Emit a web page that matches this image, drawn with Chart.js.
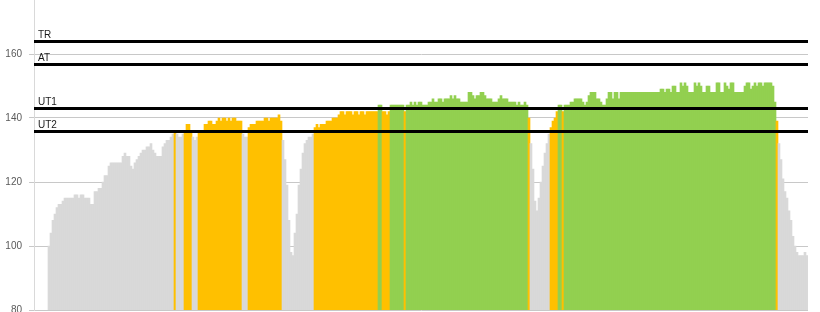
<!DOCTYPE html>
<html>
<head>
<meta charset="utf-8">
<script src="https://cdn.jsdelivr.net/npm/chart.js@4"></script>
<style>
  html, body { margin: 0; padding: 0; background: #fff; overflow: hidden; }
  #wrap { position: relative; width: 820px; height: 312px; }
</style>
</head>
<body>
<div id="wrap"><canvas id="hrChart"></canvas></div>
<script>
// heart rate samples left to right
const leadGap = 7; // empty slots before the recording starts
const hr = [
  100, 104, 108, 110, 112, 113, 113, 114, 115, 115, 115, 115, 115, 116, 116, 115, 116, 116, 115, 115,
  115, 113, 113, 117, 117, 118, 118, 120, 122, 122, 125, 126, 126, 126, 126, 126, 126, 128, 129, 128,
  128, 125, 124, 126, 127, 128, 129, 130, 130, 131, 131, 132, 130, 129, 128, 128, 128, 131, 132, 133,
  133, 134, 135, 136, 135, 134, 134, 135, 136, 138, 138, 136, 134, 133, 134, 136, 136, 136, 138, 138,
  139, 139, 138, 138, 139, 140, 139, 140, 140, 139, 140, 139, 140, 140, 139, 139, 139, 135, 134, 134,
  137, 138, 138, 138, 139, 139, 139, 139, 140, 140, 139, 140, 140, 140, 140, 141, 139, 133, 127, 119,
  108, 98, 97, 104, 110, 119, 124, 129, 132, 133, 134, 134, 135, 137, 138, 137, 138, 138, 138, 139,
  139, 139, 140, 140, 140, 141, 142, 142, 141, 142, 142, 142, 141, 142, 142, 141, 142, 142, 141, 142,
  142, 142, 142, 142, 142, 144, 144, 142, 142, 141, 142, 144, 144, 144, 144, 144, 144, 144, 142, 144,
  144, 145, 144, 145, 144, 145, 145, 144, 144, 144, 145, 145, 146, 145, 145, 146, 146, 145, 146, 146,
  146, 147, 146, 147, 146, 146, 145, 145, 145, 145, 148, 148, 147, 146, 147, 147, 148, 148, 147, 146,
  146, 146, 145, 145, 145, 146, 147, 146, 146, 146, 145, 145, 145, 145, 144, 145, 144, 144, 145, 144,
  140, 132, 124, 114, 111, 115, 120, 125, 129, 132, 135, 137, 139, 140, 142, 144, 144, 142, 144, 144,
  144, 145, 145, 146, 146, 146, 146, 145, 144, 145, 147, 148, 148, 148, 146, 146, 145, 144, 144, 146,
  148, 148, 146, 148, 148, 146, 148, 148, 148, 148, 148, 148, 148, 148, 148, 148, 148, 148, 148, 148,
  148, 148, 148, 148, 148, 148, 149, 149, 148, 149, 149, 148, 150, 150, 148, 148, 151, 150, 151, 150,
  148, 148, 148, 151, 150, 151, 150, 148, 148, 150, 150, 148, 148, 148, 151, 151, 148, 148, 151, 150,
  149, 151, 151, 148, 148, 148, 148, 148, 150, 151, 151, 149, 150, 151, 150, 151, 151, 150, 151, 151,
  151, 151, 150, 145, 139, 132, 127, 121, 117, 115, 111, 108, 103, 100, 98, 97, 97, 97, 98, 97
];

const zoneNames = ['TR', 'AT', 'UT1', 'UT2'];
const zoneLimits = [164, 157, 143, 136];

const values = Array(leadGap).fill(null).concat(hr);
const labels = values.map((v, i) => i);

function zoneColor(v) {
  if (v >= zoneLimits[2]) return '#92D050';
  if (v >= zoneLimits[3]) return '#FFC000';
  return '#D9D9D9';
}

// black threshold lines with their names
const zoneLines = {
  id: 'zoneLines',
  afterDatasetsDraw(chart) {
    const { ctx, chartArea, scales } = chart;
    ctx.save();
    ctx.strokeStyle = '#000';
    ctx.lineWidth = 3;
    ctx.font = '10px "Liberation Sans"';
    ctx.fillStyle = '#1a1a1a';
    zoneLimits.forEach((v, i) => {
      const py = Math.round(scales.y.getPixelForValue(v)) + 0.5;
      ctx.beginPath();
      ctx.moveTo(chartArea.left, py);
      ctx.lineTo(chartArea.right, py);
      ctx.stroke();
      ctx.fillText(zoneNames[i], chartArea.left + 4, py - 4);
    });
    ctx.restore();
  }
};

new Chart(document.getElementById('hrChart'), {
  type: 'bar',
  data: {
    labels: labels,
    datasets: [{
      data: values,
      backgroundColor: values.map(zoneColor),
      borderWidth: 0,
      barPercentage: 1,
      categoryPercentage: 1
    }]
  },
  options: {
    responsive: true,
    maintainAspectRatio: false,
    animation: false,
    layout: { padding: { left: 0, right: 12, top: 0, bottom: 2 } },
    plugins: { legend: { display: false }, tooltip: { enabled: false } },
    scales: {
      x: { display: false },
      y: {
        min: 80,
        max: 176.875,
        ticks: {
          stepSize: 20,
          includeBounds: false,
          color: '#595959',
          padding: 7,
          font: { family: 'Liberation Sans', size: 10 }
        },
        grid: { color: '#C8C8C8', tickLength: 5 },
        border: { color: '#D9D9D9' },
        afterFit(s) {
          s.width = 34;
          s.paddingTop = 0;
          s.paddingBottom = 0;
        }
      }
    }
  },
  plugins: [zoneLines]
});
</script>
</body>
</html>
